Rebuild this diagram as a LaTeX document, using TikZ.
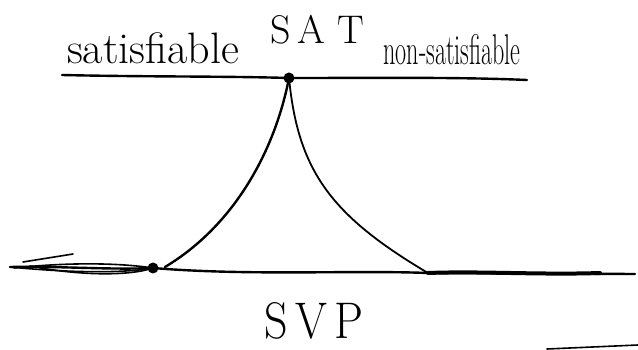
\documentclass[tikz,border=0pt]{standalone}
\begin{document}
\begin{tikzpicture}[x=1pt,y=-1pt,
  pen/.style={line width=2.4pt,line cap=round,line join=round},
  thinpen/.style={line width=1.6pt,line cap=round},
  dot/.style={circle,fill,inner sep=0pt,minimum size=11pt},
  lbl/.style={inner sep=0pt,anchor=base}]
\useasboundingbox (0,0) rectangle (638,350);
% labels
\node[lbl,font=\fontsize{44}{48}\selectfont] (satis) at (153,64) {satisfiable};
\node[lbl,font=\fontsize{43}{46}\selectfont] (nonsatis) at (452,65) {\scalebox{0.56}[1]{non-satisfiable}};
\node[lbl,font=\fontsize{40}{44}\selectfont] (sat) at (317,44) {S\hspace{7pt}A\hspace{12pt}T};
\node[lbl,font=\fontsize{46}{50}\selectfont] (svp) at (314,338) {\scalebox{1}[1.12]{S\,V\,P}};
% points
\node[dot] (psat) at (289,78) {};
\node[dot] (psvp) at (153,268) {};
\coordinate (tl) at (62,75);
\coordinate (tr) at (527,80);
\coordinate (bl) at (10,267);
\coordinate (br) at (635,274);
\coordinate (bm) at (428,273);
\coordinate (bthick) at (600,273);
\coordinate (s1) at (23,262);
\coordinate (s2) at (73,254);
\coordinate (r1) at (547,349);
\coordinate (r2) at (638,345);
% top line
\draw[pen] (tl) .. controls (150,77) and (220,76) .. (psat.center) .. controls (380,78) and (460,77) .. (tr);
% bottom line
\draw[pen] (bl) .. controls (60,266) and (110,270) .. (psvp.center);
\draw[thinpen] (bl) .. controls (60,272) and (120,274) .. (psvp.center);
\draw[thinpen] (14,268) .. controls (70,262) and (120,263) .. (psvp.center);
\draw[thinpen] (30,266) .. controls (80,276) and (130,276) .. (psvp.center);
\draw[thinpen] (s1) -- (s2);
\draw[pen] (psvp.center) .. controls (250,276) and (350,270) .. (bm) -- (br);
\draw[line width=4pt,line cap=round] (bm) .. controls (480,271) and (540,275) .. (bthick);
\draw[thinpen] (r1) -- (r2);
% curves
\draw[pen] (psat.center) .. controls (275,150) and (235,225) .. (165,267);
\draw[line width=1.8pt,line cap=round] (psat.center) .. controls (298,170) and (330,215) .. (bm);
\end{tikzpicture}
\end{document}
